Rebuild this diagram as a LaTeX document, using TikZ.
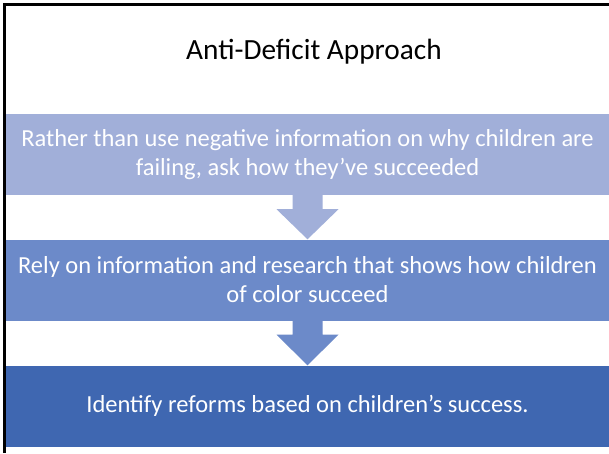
\documentclass[tikz,border=0pt]{standalone}
\usepackage{fontspec}
\setmainfont{Carlito}
\usetikzlibrary{calc}
\definecolor{bandA}{HTML}{A1AFD9}
\definecolor{bandB}{HTML}{6C8AC9}
\definecolor{bandC}{HTML}{3F67B1}
\tikzset{
  band/.style={fill=#1, draw=none, minimum width=603pt, minimum height=81pt,
    inner sep=0pt, text=white, align=center,
    font=\fontsize{24.5}{29}\selectfont},
  blockarrow/.style={fill=#1, draw=none}
}
\begin{document}
\begin{tikzpicture}[x=1pt,y=-1pt]
\useasboundingbox (0,0) rectangle (609,453);
\fill[white] (0,0) rectangle (609,453);
\node[font=\fontsize{29.3}{34}\selectfont] (title) at (314,52) {Anti-Deficit Approach};
\node[band=bandA] (b1) at (307.5,154.5) {Rather than use negative information on why children are\\failing, ask how they’ve succeeded};
\node[band=bandB] (b2) at (307.5,280) {Rely on information and research that shows how children\\of color succeed};
\node[band=bandC] (b3) at (307.5,406) {Identify reforms based on children’s success.};
\fill[bandA] ($(b1.south)+(-15,0)$) -- ($(b1.south)+(15,0)$) -- ($(b1.south)+(15,14)$)
  -- ($(b1.south)+(31,14)$) -- (b2.north) -- ($(b1.south)+(-31,14)$) -- ($(b1.south)+(-15,14)$) -- cycle;
\fill[bandB] ($(b2.south)+(-15,0)$) -- ($(b2.south)+(15,0)$) -- ($(b2.south)+(15,14)$)
  -- ($(b2.south)+(31,14)$) -- (b3.north) -- ($(b2.south)+(-31,14)$) -- ($(b2.south)+(-15,14)$) -- cycle;
\draw[black, line width=2.5pt] (4.5,453) -- (4.5,4.5) -- (609,4.5);
\end{tikzpicture}
\end{document}
